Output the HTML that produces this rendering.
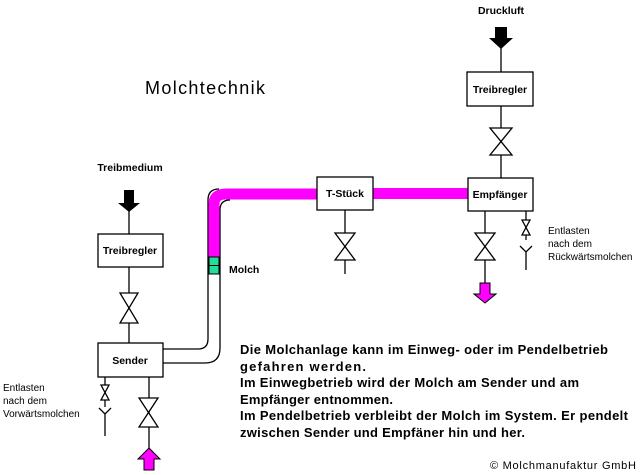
<!DOCTYPE html>
<html><head><meta charset="utf-8"><style>
html,body{margin:0;padding:0;background:#fff;}
svg{display:block;}
text{font-family:"Liberation Sans",sans-serif;}
</style></head><body>
<svg width="640" height="475" viewBox="0 0 640 475" xmlns="http://www.w3.org/2000/svg">
<rect width="640" height="475" fill="#fff"/>
<g stroke="#000" stroke-width="1.3" fill="none">
<path d="M163,349 H198 Q208,349 208,339 V200 Q208,189 219,189" />
<path d="M163,363 H205 Q220,363 220,348 V210 Q220,200 230,200" />
</g>
<path d="M214,258 V204 Q214,194 226,194 H317" stroke="#f0f" stroke-width="11" fill="none"/>
<rect x="373" y="188" width="95" height="11" fill="#f0f"/>
<rect x="209" y="257" width="10" height="17" fill="#2d9" stroke="#000" stroke-width="1"/>
<line x1="209" y1="265.5" x2="219" y2="265.5" stroke="#000" stroke-width="1"/>
<g stroke="#000" stroke-width="1.3" fill="#fff">
<line x1="129" y1="205" x2="129" y2="234"/>
<line x1="129" y1="267" x2="129" y2="343"/>
<path d="M120,293 L138,293 L120,323 L138,323 Z"/>
<rect x="98" y="234" width="65" height="33"/>
<rect x="98" y="343" width="65" height="34"/>
<line x1="149" y1="377" x2="149" y2="450"/>
<path d="M139,398 L158,398 L139,427 L158,427 Z"/>
<line x1="105" y1="377" x2="105" y2="407"/>
<path d="M101,385 L109,385 L101,400 L109,400 Z"/>
<path d="M99,408 L105,414 L111,408 M105,414 V436" fill="none"/>
<line x1="501" y1="45" x2="501" y2="72"/>
<line x1="501" y1="106" x2="501" y2="178"/>
<path d="M490,128 L512,128 L490,155 L512,155 Z"/>
<rect x="467" y="72" width="66" height="34"/>
<rect x="468" y="178" width="65" height="33"/>
<line x1="485" y1="211" x2="485" y2="285"/>
<path d="M475,233 L495,233 L475,260 L495,260 Z"/>
<line x1="526" y1="211" x2="526" y2="240"/>
<path d="M522,220 L530,220 L522,235 L530,235 Z"/>
<path d="M520,246 L526,252 L532,246 M526,252 V270" fill="none"/>
<rect x="317" y="177" width="56" height="33"/>
<line x1="345" y1="210" x2="345" y2="274"/>
<path d="M335,233 L355,233 L335,260 L355,260 Z"/>
</g>
<path d="M124,190 H134 V203 H140 L129,212 L118,203 H124 Z" fill="#000"/>
<path d="M495,27 H507 V38 H513 L501,49 L489,38 H495 Z" fill="#000"/>
<path d="M480,283 H490 V294 H496 L485,303 L474,294 H480 Z" fill="#f0f" stroke="#000" stroke-width="1"/>
<path d="M144,470 H154 V459 H160 L149,448 L138,459 H144 Z" fill="#f0f" stroke="#000" stroke-width="1"/>
<g font-weight="bold" font-size="10.5" text-anchor="middle" fill="#000">
<text x="501" y="14">Druckluft</text>
<text x="500" y="93">Treibregler</text>
<text x="500" y="198">Empfänger</text>
<text x="345" y="197">T-Stück</text>
<text x="130" y="171">Treibmedium</text>
<text x="130" y="254">Treibregler</text>
<text x="130" y="364">Sender</text>
<text x="229" y="273" text-anchor="start">Molch</text>
</g>
<g font-size="10" fill="#000">
<text x="548" y="234">Entlasten</text>
<text x="548" y="247">nach dem</text>
<text x="548" y="260">Rückwärtsmolchen</text>
<text x="3" y="391">Entlasten</text>
<text x="3" y="404">nach dem</text>
<text x="3" y="417">Vorwärtsmolchen</text>
</g>
<text x="145" y="94" font-size="18" fill="#000" textLength="120">Molchtechnik</text>
<g font-size="13" font-weight="bold" fill="#000">
<text x="240" y="354" textLength="368">Die Molchanlage kann im Einweg- oder im Pendelbetrieb</text>
<text x="240" y="371" textLength="126">gefahren werden.</text>
<text x="240" y="387" textLength="339">Im Einwegbetrieb wird der Molch am Sender und am</text>
<text x="240" y="404" textLength="153">Empfänger entnommen.</text>
<text x="240" y="420" textLength="388">Im Pendelbetrieb verbleibt der Molch im System. Er pendelt</text>
<text x="240" y="437" textLength="285">zwischen Sender und Empfäner hin und her.</text>
</g>
<text x="490" y="469" font-size="11" fill="#000" textLength="146">© Molchmanufaktur GmbH</text>
</svg>
</body></html>
